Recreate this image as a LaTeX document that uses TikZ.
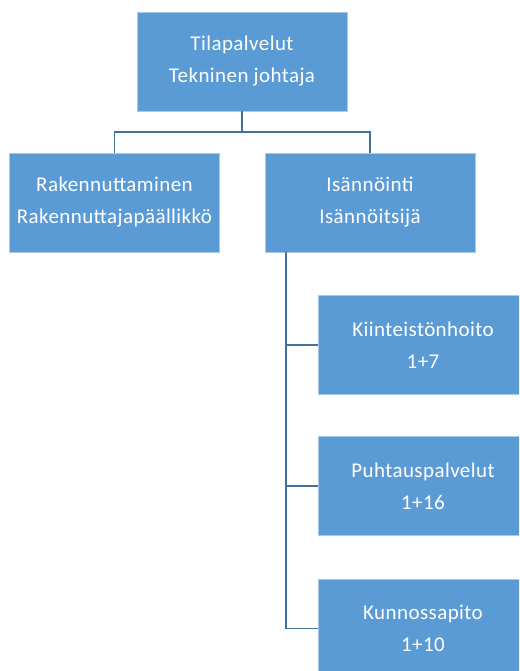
\documentclass[tikz,border=0pt]{standalone}
\usepackage{fontspec}
\setmainfont{Carlito}[LetterSpace=2]
\definecolor{boxblue}{HTML}{5B9BD5}
\definecolor{boxedge}{HTML}{A9C8EA}
\definecolor{linkblue}{HTML}{41719C}
\begin{document}
\begin{tikzpicture}[x=1pt,y=-1pt,
  orgbox/.style={draw=boxedge, line width=0.8pt, fill=boxblue, text=white,
    minimum width=210pt, minimum height=99pt, inner sep=0pt, align=center,
    font=\fontsize{21}{32}\selectfont},
  link/.style={draw=linkblue, line width=1.5pt}]
\useasboundingbox (0,0) rectangle (519,671);
\clip (0,0) rectangle (519,671);
\node[orgbox] (top) at (242,61.5) {Tilapalvelut\\Tekninen johtaja};
\node[orgbox] (rak) at (114.5,202.5) {Rakennuttaminen\\Rakennuttajapäällikkö};
\node[orgbox] (isa) at (370,202.5) {Isännöinti\\Isännöitsijä};
\node[orgbox] (kii) at (423,345) {Kiinteistönhoito\\1+7};
\node[orgbox] (puh) at (423,486) {Puhtauspalvelut\\1+16};
\node[orgbox] (kun) at (423,628.5) {Kunnossapito\\1+10};
\coordinate (mid) at (242,132);
\coordinate (spine) at (286,628.5);
\draw[link] (top.south) -- (mid);
\draw[link] (rak.north) |- (mid) -| (isa.north);
\draw[link] (isa.south -| spine) -- (spine);
\draw[link] (kii.west) -| (spine);
\draw[link] (puh.west) -| (spine);
\draw[link] (kun.west) -- (spine);
\end{tikzpicture}
\end{document}
